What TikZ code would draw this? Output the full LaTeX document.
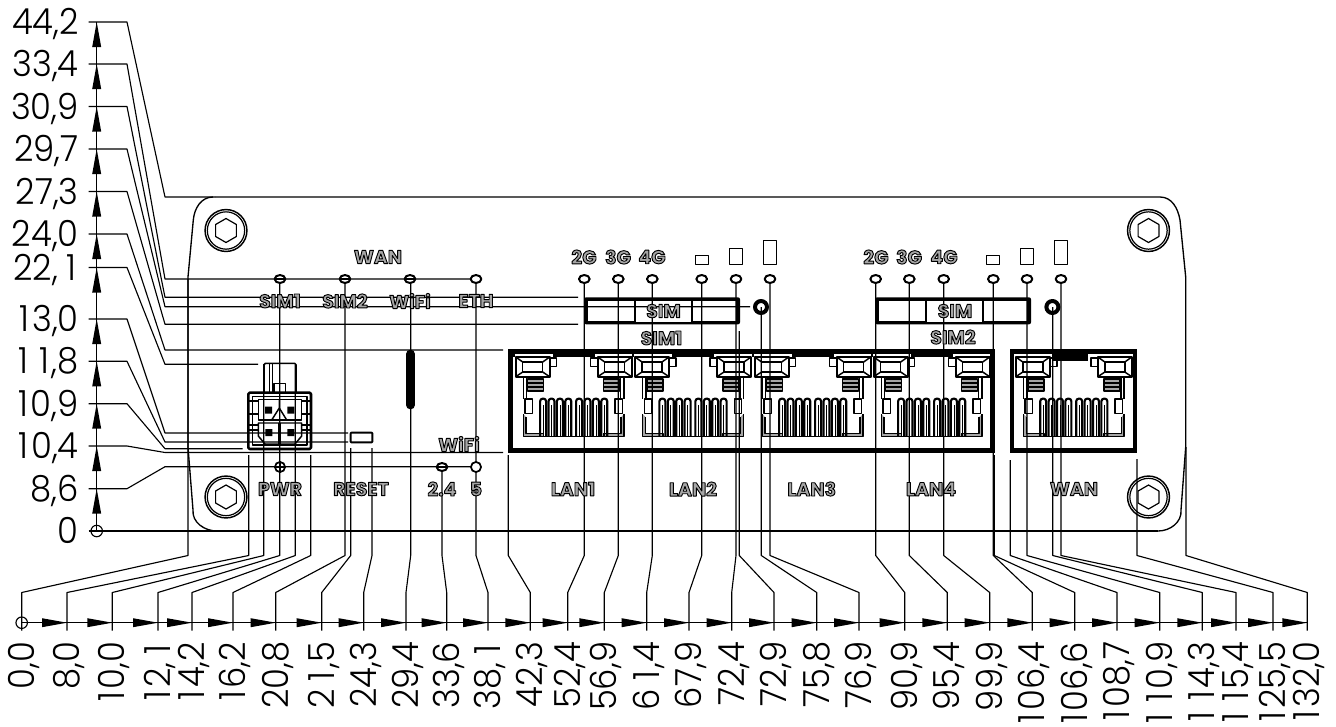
\documentclass[tikz,border=0pt]{standalone}
\usepackage{fontspec}
\usetikzlibrary{shapes.geometric}
\setmainfont{Poppins Light}[FakeStretch=0.94]
\newfontfamily\smfont{Poppins Bold}
\newcommand\olt[1]{\special{pdf:code 2 Tr 0.7 w 0 G}#1\special{pdf:code 0 Tr}}
\newcommand\uno{\setbox0\hbox{0}\hbox to \wd0{\hfil 1\hskip 2pt}}
\tikzset{
  thinl/.style={line width=0.85pt,black},
  numlab/.style={font=\fontsize{27}{27}\selectfont,inner sep=0pt,text height=19pt,text depth=0pt},
  smlab/.style={font=\smfont\fontsize{14.2}{14}\selectfont,inner sep=0pt,text=black!35},
  lednode/.style={ellipse,draw=black,line width=1.5pt,fill=white,minimum width=8pt,minimum height=6pt,inner sep=0pt},
  ledround/.style={circle,draw=black,line width=1.3pt,fill=white,minimum size=7.6pt,inner sep=0pt},
  ringc/.style={circle,draw=black,line width=0.85pt,minimum size=8.6pt,inner sep=0pt},
  sig/.style={draw=black,line width=1.1pt},
  heavy/.style={line width=1.6pt,black},
  mid/.style={line width=1.1pt,black},
}
\newcommand\screw[2]{%
  \draw[line width=1.1pt] (#1,#2) circle[radius=15.7pt];
  \draw[line width=0.9pt] (#1,#2) circle[radius=14pt];
  \draw[line width=0.9pt] (#1,#2)++(90:9pt) -- ++(-30:9pt) -- ++(-90:9pt) -- ++(-150:9pt) -- ++(150:9pt) -- ++(90:9pt) -- cycle;
}
\newcommand\rjhalf{%
  \fill[white] (-58.7,353.8) rectangle (-21,357);
  \draw[heavy] (-58,357) rectangle (-24,376.7);
  \draw[mid] (-51,362) rectangle (-31,372);
  \draw[mid] (-58,357) -- (-51,362) (-24,357) -- (-31,362) (-58,376.7) -- (-51,372) (-24,376.7) -- (-31,372);
  \draw[mid] (-23.7,358) rectangle (-17,366.7);
  \draw[mid] (-50.3,376.7) -- (-50.3,399) (-47,376.7) -- (-47,399);
  \fill[black!35] (-46,379) rectangle (-30,391);
  \draw[mid] (-46,379) rectangle (-30,391) (-46,383) -- (-30,383) (-46,387) -- (-30,387);
  \draw[mid] (-48.7,399) rectangle (-41.4,413.5);
  \fill[black!35] (-50.3,414) -- (-50.3,436.7) -- (-30,436.7) -- (-30,433.5) -- (-47.5,433.5) -- (-47.5,417) -- cycle;
  \draw[mid] (-50.3,414) -- (-50.3,436.7) -- (-30,436.7) -- (-30,433.5) -- (-47.5,433.5) -- (-47.5,417);
  \foreach \k in {0,1,2,3}{
    \draw[line width=1.6pt,rounded corners=2pt] ({-33.6+8.4*\k},436.7) -- ({-33.6+8.4*\k},398.6) -- ({-27.6+8.4*\k},398.6) -- ({-27.6+8.4*\k},436.7);
    \draw[line width=0.6pt] ({-30.6+8.4*\k},405) -- ({-30.6+8.4*\k},436.7);
  }
  \draw[mid] (-34,436.7) -- (0,436.7);
}
\newcommand\rjmodule[1]{%
  \begin{scope}[shift={(#1,0)}]\rjhalf\end{scope}
  \begin{scope}[shift={(#1,0)},xscale=-1]\rjhalf\end{scope}
}
\newcommand\simbox[1]{%
  \begin{scope}[shift={(#1,0)}]
  \fill[black,rounded corners=1.5pt] (0,297.3) rectangle (156,324.3);
  \fill[white] (4,300.5) rectangle (49.5,321);
  \fill[white] (52,300.5) rectangle (107,322);
  \fill[white] (109,300.5) rectangle (152,321);
  \end{scope}
}
\begin{document}
\begin{tikzpicture}[x=0.75pt,y=-0.75pt,line join=round]
\useasboundingbox (0,0) rectangle (1336,726);
% plate
\draw[line width=1pt] (215,197) -- (1160,197) to[out=0,in=100] (1180,220) -- (1185.7,277) -- (1185.7,447) -- (1181,510) to[out=-85,in=0] (1158,531)
  (217,531) to[out=180,in=-95] (193,510) -- (188,447) -- (188,277) -- (193.3,220) to[out=85,in=180] (213,197);
\screw{226}{230.5}\screw{1148.5}{230.5}\screw{226}{497}\screw{1148.5}{497}
% blocks
\fill (507.7,349.4) rectangle (994.7,452.7);
\fill[white] (512.7,356.7) rectangle (990.3,448.4);
\fill (1009.7,349.4) rectangle (1137.2,452.7);
\fill[white] (1014.3,353.8) rectangle (1132.7,448.4);
\fill (1053,353) rectangle (1088,361);
\foreach \c in {573.7,693,812.7,931.7,1073.8}{\rjmodule{\c}}
% sim boxes
\simbox{584}\simbox{875}
% holes
\draw[line width=3pt] (761,307) circle[radius=4.5pt];
\draw[line width=3pt] (1052.4,307) circle[radius=4.5pt];
% power connector
\draw[line width=1.9pt,rounded corners=1pt] (248.3,392.7) rectangle (311,449);
\draw[mid] (252.7,396.5) rectangle (307,445);
\draw[line width=1.2pt,rounded corners=1pt] (264,392.7) -- (264,363.3) -- (296,363.3) -- (296,392.7);
\draw[mid] (269.3,364) -- (269.3,392) (272.7,364) -- (272.7,392);
\draw[mid] (274,383.3) rectangle (285.7,392.7);
\draw[mid] (258.3,399.5) rectangle (301.7,420);
\draw[mid] (279.3,399.5) -- (279.3,408) (271.7,420) -- (279.3,408) -- (286.7,420);
\draw[mid] (258.3,423) -- (301.7,423) -- (301.7,436) -- (295,444) -- (265,444) -- (258.3,436) -- cycle;
\draw[line width=2.6pt] (279.5,423) -- (279.5,444);
\foreach \a in {401,414,425,430}{\draw[line width=0.9pt] (248.3,\a) -- (258.3,\a) (301.7,\a) -- (311,\a);}
\fill (265,406.5) rectangle (272,413.5) (287.3,406.5) rectangle (294.3,413.5) (265.3,429) rectangle (272.3,436) (287.3,429) rectangle (294.3,436);
% reset, bar
\draw[line width=1.5pt,rounded corners=0.5pt] (350.7,432.7) rectangle (372.3,442.3);
\draw[line width=6.6pt,line cap=round] (410.5,354) -- (410.5,405);
% signal rectangles
\foreach \o in {0,291}{
  \draw[sig] ({695.7+\o},255.7) rectangle ({708.3+\o},264.3);
  \draw[sig] ({729.7+\o},248.3) rectangle ({742.3+\o},264.3);
  \draw[sig] ({763.5+\o},240.7) rectangle ({776.5+\o},264.3);
}
% vertical axis
\coordinate (vtop) at (96.7,22);
\coordinate (vbot) at (96.7,531);
\draw[thinl] (vtop) -- (vbot);
\node[ringc] (vorig) at (vbot) {};
\foreach \yy/\yh/\xe/\lab [count=\i] in {22/197/215/{44,2},64/279/476/{33,4},106.5/297.3/578/{30,9},149/306.7/750/{29,7},191.5/324.3/578/{27,3},234/350/503/{24,0},267.5/364.3/258/{22,\uno},319/433/348/{\uno3,0},361.3/442/348/{\uno\uno,8},403.7/448.7/242.7/{\uno0,9},446/452.5/503/{\uno0,4},488.7/466.7/476/{8,6}}{
  \coordinate (la\i) at (88.7,\yy);
  \coordinate (lb\i) at (127,\yy);
  \coordinate (lc\i) at (165,\yh);
  \coordinate (ld\i) at (\xe,\yh);
  \draw[thinl] (la\i) -- (lb\i) -- (lc\i) -- (ld\i);
  \fill (96.7,\yy) -- (92.2,{\yy+25}) -- (101.2,{\yy+25}) -- cycle;
  \node[numlab,anchor=east] (vl\i) at (79,\yy) {\lab};
}
\coordinate (z0) at (88.7,531);
\coordinate (z1) at (1158,531);
\draw[thinl] (z0) -- (z1);
\node[numlab,anchor=east] (vl0) at (79,531) {0};
% horizontal axis
\coordinate (hl) at (21.7,622.7);
\coordinate (hr) at (1307.3,622.7);
\draw[thinl] (hl) -- (hr);
\node[ringc] (horig) at (hl) {};
\foreach \xb/\xt/\yt/\lab [count=\i] in {21.7/188/279/{0,0},67/248.7/455/{8,0},112.3/263.7/364/{\uno0,0},158/279.7/279/{\uno2,\uno},192/295.3/365/{\uno4,2},233/310.7/455/{\uno6,2},275.7/345/279/{20,8},321.7/350.7/448/{2\uno,5},363.7/372/448/{24,3},406/410.7/279/{29,4},446.7/442/467/{33,6},488/476/279/{38,\uno},530.3/508.3/455/{42,3},567.7/584.3/279/{52,4},604.3/618.3/279/{56,9},646.7/652.3/279/{6\uno,4},689/701.7/279/{67,9},731.7/736/279/{72,4},774/739.3/331/{72,9},816.7/761.3/307/{75,8},859/770/279/{76,9},904.7/875.7/279/{90,9},947.3/909.3/279/{95,4},989.7/943.7/279/{99,9},1032.3/993.3/279/{\uno06,4},1074.7/994.3/455/{\uno06,6},1117/1010.3/460/{\uno08,7},1159.7/1027/279/{\uno\uno0,9},1202.3/1052.7/307/{\uno\uno4,3},1236/1061/279/{\uno\uno5,4},1273/1137/459/{\uno25,5},1307.3/1186/447/{\uno32,0}}{
  \coordinate (ba\i) at (\xb,630.7);
  \coordinate (bb\i) at (\xb,592.5);
  \coordinate (bc\i) at (\xt,555.5);
  \coordinate (bd\i) at (\xt,\yt);
  \draw[thinl] (ba\i) -- (bb\i) -- (bc\i) -- (bd\i);
  \ifnum\i>1
    \fill (\xb,622.7) -- ({\xb-25},618.2) -- ({\xb-25},627.2) -- cycle;
  \fi
  \node[numlab,rotate=90,anchor=east] (bl\i) at (\xb,641.5) {\lab};
}
% LEDs
\foreach \n/\x/\y in {w1/280/279,w2/345/279,w3/410/279,w4/476/279,a1/584.3/279,a2/618.3/279,a3/652.3/279,a4/701.7/279,a5/736/279,a6/770/279,b1/875.7/279,b2/909.3/279,b3/943.7/279,b4/993.3/279,b5/1027/279,b6/1061/279,p2/442/467}{
  \node[lednode] (led\n) at (\x,\y) {};
}
\node[ledround] (ledp1) at (280,467) {};
\node[ledround] (ledp3) at (476,467) {};
\draw[thinl] (ledw1.west) -- (ledw1.east) (ledw2.west) -- (ledw2.east) (ledw3.west) -- (ledw3.east);
\draw[thinl] (ledp1.west) -- (ledp1.east) (ledp1.north) -- (ledp1.south) (ledp2.west) -- (ledp2.east);
% small labels
\foreach \n/\x/\y/\t in {t1/378/257/WAN,t2/280/301/SIM1,t3/345/301/SIM2,t4/410/301/WiFi,t5/476/301/ETH,t6/584/257/2G,t7/618/257/3G,t8/652/257/4G,t9/876/257/2G,t10/909/257/3G,t11/944/257/4G,t12/663.5/311/SIM,t13/661.5/338/SIM1,t14/955/311/SIM,t15/953/337/SIM2,t16/459/444/WiFi,t17/280/489/PWR,t18/361/489/RESET,t19/442/489/2.4,t20/476/489/5,t21/573/489/LAN1,t22/693/489/LAN2,t23/811.7/489/LAN3,t24/931/489/LAN4,t25/1074/489/WAN}{
  \node[smlab] (\n) at (\x,\y) {\olt{\t}};
}
\end{tikzpicture}
\end{document}
